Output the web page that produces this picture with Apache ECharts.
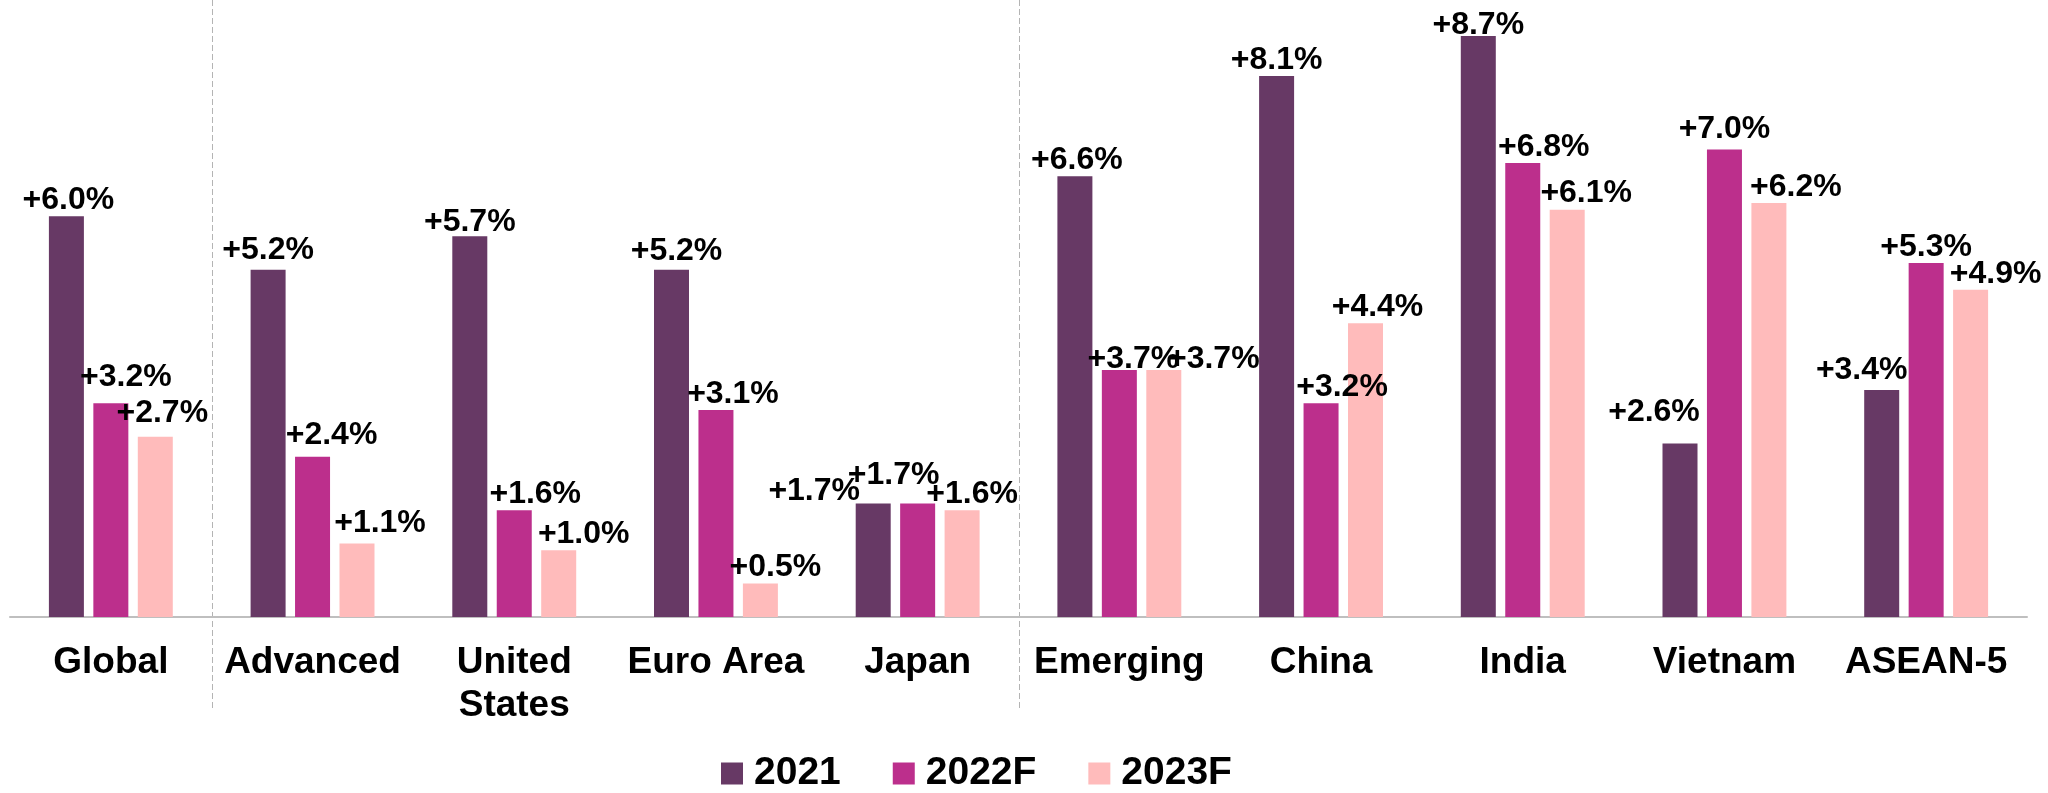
<!DOCTYPE html>
<html>
<head>
<meta charset="utf-8">
<script src="https://cdn.jsdelivr.net/npm/echarts@6/dist/echarts.min.js"></script>
<style>
    html, body { margin: 0; padding: 0; background: #fff; }
    #chart { width: 2048px; height: 793px; }
</style>
</head>
<body>
<div id="chart"></div>
<script>
const categories = ['Global', 'Advanced', 'United\nStates', 'Euro Area', 'Japan', 'Emerging', 'China', 'India', 'Vietnam', 'ASEAN-5'];
const seriesNames = ['2021', '2022F', '2023F'];
const values2021 = [6.0, 5.2, 5.7, 5.2, 1.7, 6.6, 8.1, 8.7, 2.6, 3.4];
const values2022 = [3.2, 2.4, 1.6, 3.1, 1.7, 3.7, 3.2, 6.8, 7.0, 5.3];
const values2023 = [2.7, 1.1, 1.0, 0.5, 1.6, 3.7, 4.4, 6.1, 6.2, 4.9];
// group separators sit before these category indexes
const separatorsBefore = [1, 5];

// hand-placed value labels in the source: nudge [dx, dy] per bar
const labelNudge = [
    [[2, 0], [0, -4], [0, 2], [5, -3], [-59, 4], [2, 0], [0, 0], [0, 5], [-26, -15], [-20, -4]],
    [[15, -10], [19, -6], [21, 0], [17, 0], [-24, -12], [14, 5], [21, 0], [21, 0], [0, -4], [0, 0]],
    [[7, -8], [23, -4], [25, 0], [15, 0], [10, 0], [50, 5], [12, 0], [19, 0], [27, 0], [25, 0]],
];

const colors = ['#673965', '#bc2f8c', '#ffbbbb'];
const font = '"Liberation Sans", Arial, sans-serif';

const chart = echarts.init(document.getElementById('chart'));

function makeSeries(name, values, color, nudges) {
    return {
        name: name,
        type: 'bar',
        data: values.map((v, i) => ({value: v, label: {offset: nudges[i]}})),
        barWidth: 35,
        barGap: '27%',
        itemStyle: {color: color},
        label: {
            show: true,
            position: 'top',
            distance: 0,
            color: '#000',
            fontFamily: font,
            fontWeight: 'bold',
            fontSize: 32,
            formatter: (p) => '+' + p.value.toFixed(1) + '%',
        },
    };
}

const option = {
    animation: false,
    color: colors,
    grid: {
        left: 10,
        right: 21,
        top: 16,
        bottom: 176,
    },
    legend: {
        data: seriesNames,
        left: 716,
        top: 749,
        itemWidth: 22,
        itemHeight: 22,
        itemGap: 52,
        icon: 'rect',
        textStyle: {
            color: '#000',
            fontFamily: font,
            fontWeight: 'bold',
            fontSize: 39,
            padding: [0, 0, 0, 6],
        },
    },
    xAxis: {
        type: 'category',
        data: categories,
        axisLine: {lineStyle: {color: '#bfbfbf', width: 2}},
        axisTick: {show: false},
        axisLabel: {
            color: '#000',
            fontFamily: font,
            fontWeight: 'bold',
            fontSize: 37,
            lineHeight: 43,
            margin: 24,
            interval: 0,
        },
    },
    yAxis: {
        type: 'value',
        min: 0,
        max: 9,
        show: false,
        splitLine: {show: false},
    },
    series: [
        makeSeries(seriesNames[0], values2021, colors[0], labelNudge[0]),
        makeSeries(seriesNames[1], values2022, colors[1], labelNudge[1]),
        makeSeries(seriesNames[2], values2023, colors[2], labelNudge[2]),
    ],
};

chart.setOption(option);

// dashed group separators, placed at the category boundaries
const lines = separatorsBefore.map((idx) => {
    const a = chart.convertToPixel({xAxisIndex: 0}, idx - 1);
    const b = chart.convertToPixel({xAxisIndex: 0}, idx);
    const x = Math.round((a + b) / 2) + 0.5;
    return {
        type: 'line',
        shape: {x1: x, y1: 0, x2: x, y2: 711},
        style: {stroke: '#b4b4b4', lineWidth: 1, lineDash: [6, 3]},
        z: 0,
    };
});
chart.setOption({graphic: lines});
</script>
</body>
</html>
